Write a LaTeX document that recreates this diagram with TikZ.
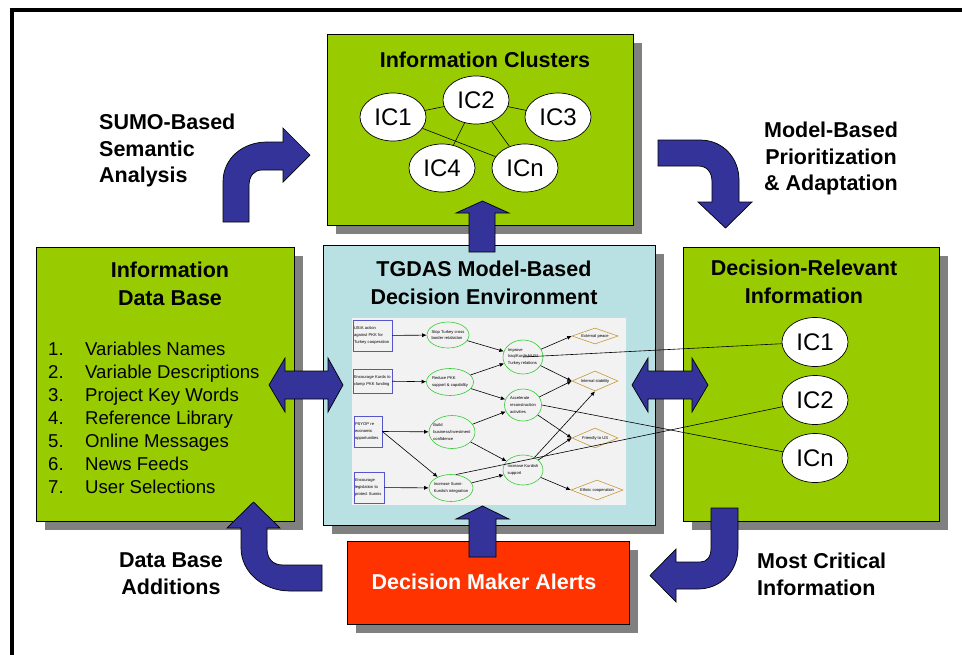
\documentclass[tikz,border=0pt]{standalone}
\usepackage{fontspec}
\setmainfont{Liberation Sans}
\usetikzlibrary{shapes.geometric,arrows.meta,shadows}
\definecolor{leaf}{HTML}{99CC00}
\definecolor{pool}{HTML}{B9E1E4}
\definecolor{alarm}{HTML}{FF3300}
\definecolor{navy}{HTML}{333399}
\definecolor{shadowgray}{HTML}{808080}
\definecolor{paper}{HTML}{F2F2F2}
\definecolor{boxblue}{HTML}{5555CC}
\definecolor{ovalgreen}{HTML}{33CC33}
\definecolor{tan}{HTML}{C49A3A}

\begin{document}
\begin{tikzpicture}[x=1pt,y=-1pt]
\tikzstyle{every node}+=[inner sep=0pt]
\tikzstyle{panel}=[draw=black,line width=0.7pt,rectangle,drop shadow={shadow xshift=9pt,shadow yshift=-9pt,fill=shadowgray,opacity=1,draw=none}]
\tikzstyle{blockarrow}=[fill=navy,draw=black,line width=0.7pt,line join=miter]
\tikzstyle{boxtitle}=[font=\bfseries\fontsize{21.5}{28}\selectfont,align=center,anchor=north]
\tikzstyle{flowlabel}=[font=\bfseries\fontsize{21.5}{26.5}\selectfont]
\tikzstyle{cluster}=[draw=black,fill=white,ellipse,line width=0.7pt,minimum width=66pt,minimum height=48pt,font=\fontsize{24}{24}\selectfont]
\tikzstyle{minitext}=[font=\fontsize{4.1}{6.8}\selectfont,align=left]
\tikzstyle{cause}=[draw=boxblue,line width=0.7pt,rectangle,minitext,inner xsep=1pt,anchor=center]
\tikzstyle{oval}=[draw=ovalgreen,ellipse,line width=0.6pt]
\tikzstyle{goal}=[draw=tan,diamond,line width=0.6pt]
\tikzstyle{flow}=[-{Latex[length=4.5pt,width=4pt]},line width=0.6pt]
\useasboundingbox (0,0) rectangle (962,654);
\draw[line width=3.5pt] (12,670) -- (12,10) -- (975,10);

\node[panel,fill=leaf,minimum width=306pt,minimum height=191pt] (clusters) at (480,129.5) {};
\node[panel,fill=pool,minimum width=332pt,minimum height=280pt] (model) at (489,385) {};
\node[panel,fill=leaf,minimum width=258pt,minimum height=274pt] (database) at (165,384) {};
\node[panel,fill=leaf,minimum width=256pt,minimum height=274pt] (relevant) at (811,384) {};
\node[panel,fill=alarm,minimum width=282pt,minimum height=83pt] (alerts) at (488,582.5) {};

\node[boxtitle] (clusterstitle) at (485,52) {Information Clusters};
\node[boxtitle] (modeltitle) at (484,261) {TGDAS Model-Based\\Decision Environment};
\node[boxtitle] (databasetitle) at (170,262) {Information\\Data Base};
\node[boxtitle] (relevanttitle) at (804,260) {Decision-Relevant\\Information};
\node[boxtitle,text=white] (alertstitle) at (484,574) {Decision Maker Alerts};

\node[anchor=north west,align=left,font=\fontsize{18.6}{23}\selectfont] (sources) at (48,342) {%
\makebox[37pt][l]{1.}Variables Names\\
\makebox[37pt][l]{2.}Variable Descriptions\\
\makebox[37pt][l]{3.}Project Key Words\\
\makebox[37pt][l]{4.}Reference Library\\
\makebox[37pt][l]{5.}Online Messages\\
\makebox[37pt][l]{6.}News Feeds\\
\makebox[37pt][l]{7.}User Selections};

\node[flowlabel,anchor=north west,align=left] (sumo) at (99,114) {SUMO-Based\\Semantic\\Analysis};
\node[flowlabel,anchor=north,align=center] (prior) at (831,122) {Model-Based\\Prioritization\\\& Adaptation};
\node[flowlabel,anchor=north,align=center] (additions) at (171,553) {Data Base\\Additions};
\node[flowlabel,anchor=north west,align=left] (critical) at (757,553) {Most Critical\\Information};

\node[cluster] (c1) at (393,117) {IC1};
\node[cluster] (c2) at (476,100) {IC2};
\node[cluster] (c3) at (558,117) {IC3};
\node[cluster] (c4) at (442,168) {IC4};
\node[cluster] (cn) at (525,168) {ICn};
\draw[line width=0.6pt] (c1) -- (c2);
\draw[line width=0.6pt] (c2) -- (c3);
\draw[line width=0.6pt] (c2) -- (c4);
\draw[line width=0.6pt] (c2) -- (cn);
\draw[line width=0.6pt] (c1) -- (cn);

\draw[blockarrow] (223,222) -- (223,182) .. controls (223,158) and (243,142) .. (267,142) -- (283,142) -- (283,128) -- (310,155) -- (283,182) -- (283,170) -- (262,170) .. controls (254,170) and (249,176) .. (249,186) -- (249,222) -- cycle;
\draw[blockarrow] (658,140) -- (700,140) .. controls (723,140) and (739,158) .. (739,180) -- (739,202) -- (752,202) -- (725.5,228) -- (698,202) -- (712,202) -- (712,182) .. controls (712,172) and (707,166) .. (698,166) -- (658,166) -- cycle;
\draw[blockarrow] (711,508) -- (738,508) -- (738,548) .. controls (738,572) and (720,589) .. (698,589) -- (676,589) -- (676,602) -- (650,575.5) -- (676,549) -- (676,562) -- (700,562) .. controls (707,562) and (711,557) .. (711,548) -- cycle;
\draw[blockarrow] (322,565) -- (322,591) -- (290,591) .. controls (263,591) and (241,572) .. (241,548) -- (241,528) -- (227,528) -- (253.5,502) -- (280,528) -- (267,528) -- (267,548) .. controls (267,559) and (273,565) .. (283,565) -- cycle;
\draw[blockarrow] (469,252) -- (469,213) -- (456,213) -- (482.5,201) -- (509,213) -- (495,213) -- (495,252) -- cycle;
\draw[blockarrow] (469,557) -- (469,519) -- (456,519) -- (482.5,506) -- (509,519) -- (496,519) -- (496,557) -- cycle;
\draw[blockarrow] (269,385) -- (285,358) -- (285,371) -- (328,371) -- (328,358) -- (343,385) -- (328,412) -- (328,399) -- (285,399) -- (285,412) -- cycle;
\draw[blockarrow] (632,385) -- (648,358) -- (648,371) -- (692,371) -- (692,358) -- (708,385) -- (692,412) -- (692,399) -- (648,399) -- (648,412) -- cycle;

\node[fill=paper,minimum width=274pt,minimum height=187pt] (screen) at (489,411.5) {};
\node[cause,text width=37pt,minimum height=31pt] (usia) at (372.5,335.5) {USIA action\\against PKK for\\Turkey cooperation};
\node[cause,text width=37pt,minimum height=24pt] (kurds) at (372.5,381) {Encourage Kurds to\\clamp PKK funding};
\node[cause,text width=26pt,minimum height=31pt] (psyop) at (368,431.5) {PSYOP re\\economic\\opportunities};
\node[cause,text width=28pt,minimum height=31pt] (law) at (369,487.5) {Encourage\\legislation to\\protect Sunnis};
\node[oval,minimum width=42pt,minimum height=26pt,label={[minitext]center:{Stop Turkey cross\\border retaliation}}] (stop) at (448,335) {};
\node[oval,minimum width=47pt,minimum height=27pt,label={[minitext]center:{Reduce PKK\\support \& capability}}] (reduce) at (450,382) {};
\node[oval,minimum width=46pt,minimum height=33pt,label={[minitext]center:{Build\\business/investment\\confidence}}] (build) at (452,432) {};
\node[oval,minimum width=44pt,minimum height=27pt,label={[minitext]center:{Increase Sunni-\\Kurdish integration}}] (sunni) at (451,488) {};
\node[oval,minimum width=40pt,minimum height=34pt,label={[minitext]center:{Improve\\Iraq/Kurdish/US/\\Turkey relations}}] (improve) at (523,357) {};
\node[oval,minimum width=37pt,minimum height=32pt,label={[minitext]center:{Accelerate\\reconstruction\\activities}}] (accel) at (523,405) {};
\node[oval,minimum width=40pt,minimum height=30pt,label={[minitext]center:{Increase Kurdish\\support}}] (kurdsup) at (523,470) {};
\node[goal,minimum width=46pt,minimum height=16pt,label={[minitext]center:External peace}] (peace) at (595,336) {};
\node[goal,minimum width=46pt,minimum height=20pt,label={[minitext]center:Internal stability}] (stable) at (595,381) {};
\node[goal,minimum width=46pt,minimum height=20pt,label={[minitext]center:Friendly to US}] (friend) at (595,438) {};
\node[goal,minimum width=52pt,minimum height=20pt,label={[minitext]center:Ethnic cooperation}] (ethnic) at (597,490) {};
\draw[flow] (usia) -- (stop);
\draw[flow] (kurds) -- (reduce);
\draw[flow] (psyop.east) -- (build);
\draw[flow] (psyop.east) -- (sunni);
\draw[flow] (law) -- (sunni);
\draw[flow] (stop) -- (improve);
\draw[flow] (reduce) -- (improve);
\draw[flow] (reduce) -- (accel);
\draw[flow] (build) -- (accel);
\draw[flow] (build) -- (kurdsup);
\draw[flow] (sunni) -- (kurdsup);
\draw[flow] (improve) -- (peace.west);
\draw[flow] (improve) -- (stable.west);
\draw[flow] (accel) -- (stable.west);
\draw[flow] (accel) -- (friend.west);
\draw[flow] (kurdsup) -- (stable.south);
\draw[flow] (kurdsup) -- (friend.west);
\draw[flow] (kurdsup) -- (ethnic.west);

\node[cluster,minimum height=49pt] (r1) at (815,342) {IC1};
\node[cluster,minimum height=49pt] (r2) at (815,400) {IC2};
\node[cluster,minimum height=49pt] (rn) at (815,458) {ICn};
\draw[line width=0.6pt] (improve.center) -- (r1);
\draw[line width=0.6pt] (sunni.70) -- (r2);
\draw[line width=0.6pt] (accel.east) -- (rn);
\end{tikzpicture}
\end{document}
